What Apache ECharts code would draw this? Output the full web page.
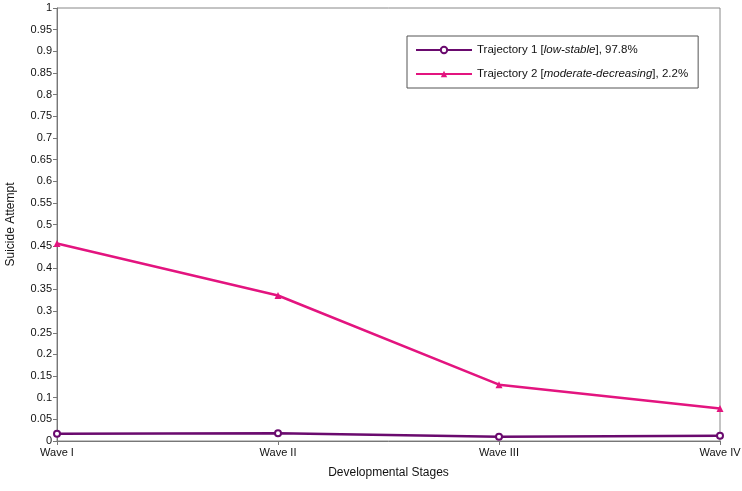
<!DOCTYPE html>
<html>
<head>
<meta charset="utf-8">
<script src="https://cdn.jsdelivr.net/npm/echarts@6/dist/echarts.min.js"></script>
<style>
  html, body { margin: 0; padding: 0; background: #fff; }
  #chart { width: 742px; height: 491px; }
</style>
</head>
<body>
<div id="chart"></div>
<script>
const stages = ['Wave I', 'Wave II', 'Wave III', 'Wave IV']
const lowStable = [0.017, 0.018, 0.010, 0.012]
const moderateDecreasing = [0.456, 0.336, 0.130, 0.075]
const seriesNames = ['Trajectory 1 [low-stable], 97.8%', 'Trajectory 2 [moderate-decreasing], 2.2%']

const chart = echarts.init(document.getElementById('chart'))

const font = 'Liberation Sans, Arial, sans-serif'

const opt = {
    animation: false,
    textStyle: { fontFamily: font },
    grid: {
        left: 57,
        right: 22,
        top: 8,
        bottom: 50,
        outerBoundsMode: 'none',
        containLabel: false,
        show: true,
        borderColor: '#888',
        borderWidth: 1
    },
    legend: {
        orient: 'vertical',
        left: 407,
        top: 36,
        padding: [8, 10, 8, 8],
        itemGap: 12,
        itemWidth: 56,
        itemHeight: 8,
        borderColor: '#555',
        borderWidth: 1,
        backgroundColor: '#fff',
        textStyle: {
            fontSize: 11.5,
            color: '#111',
            rich: { i: { fontStyle: 'italic', fontSize: 11.5, color: '#111' } }
        },
        formatter: function (name) {
            if (name === seriesNames[0]) return 'Trajectory 1 [{i|low-stable}], 97.8%'
            return 'Trajectory 2 [{i|moderate-decreasing}], 2.2%'
        }
    },
    xAxis: {
        type: 'category',
        data: stages,
        boundaryGap: false,
        name: 'Developmental Stages',
        nameLocation: 'middle',
        nameGap: 26,
        nameTextStyle: { fontSize: 12, color: '#111' },
        axisLine: { lineStyle: { color: '#777' } },
        axisTick: { alignWithLabel: true, length: 4, lineStyle: { color: '#777' } },
        axisLabel: { fontSize: 11, color: '#111', margin: 6 }
    },
    yAxis: {
        type: 'value',
        min: 0,
        max: 1,
        interval: 0.05,
        name: 'Suicide Attempt',
        nameLocation: 'middle',
        nameGap: 40,
        nameTextStyle: { fontSize: 12, color: '#111' },
        axisLine: { show: true, lineStyle: { color: '#777' } },
        axisTick: { show: true, length: 4, lineStyle: { color: '#777' } },
        splitLine: { show: false },
        axisLabel: {
            fontSize: 11,
            color: '#111',
            margin: 5,
            formatter: function (v) { return String(+v.toFixed(2)) }
        }
    },
    series: [
        {
            name: seriesNames[0],
            type: 'line',
            data: lowStable,
            symbol: 'emptyCircle',
            symbolSize: 6,
            lineStyle: { color: '#6a0a6e', width: 2.5 },
            itemStyle: { color: '#6a0a6e', borderWidth: 2 }
        },
        {
            name: seriesNames[1],
            type: 'line',
            data: moderateDecreasing,
            symbol: 'triangle',
            symbolSize: 7,
            lineStyle: { color: '#e3147f', width: 2.5 },
            itemStyle: { color: '#e3147f' }
        }
    ]
}

chart.setOption(opt)
</script>
</body>
</html>
